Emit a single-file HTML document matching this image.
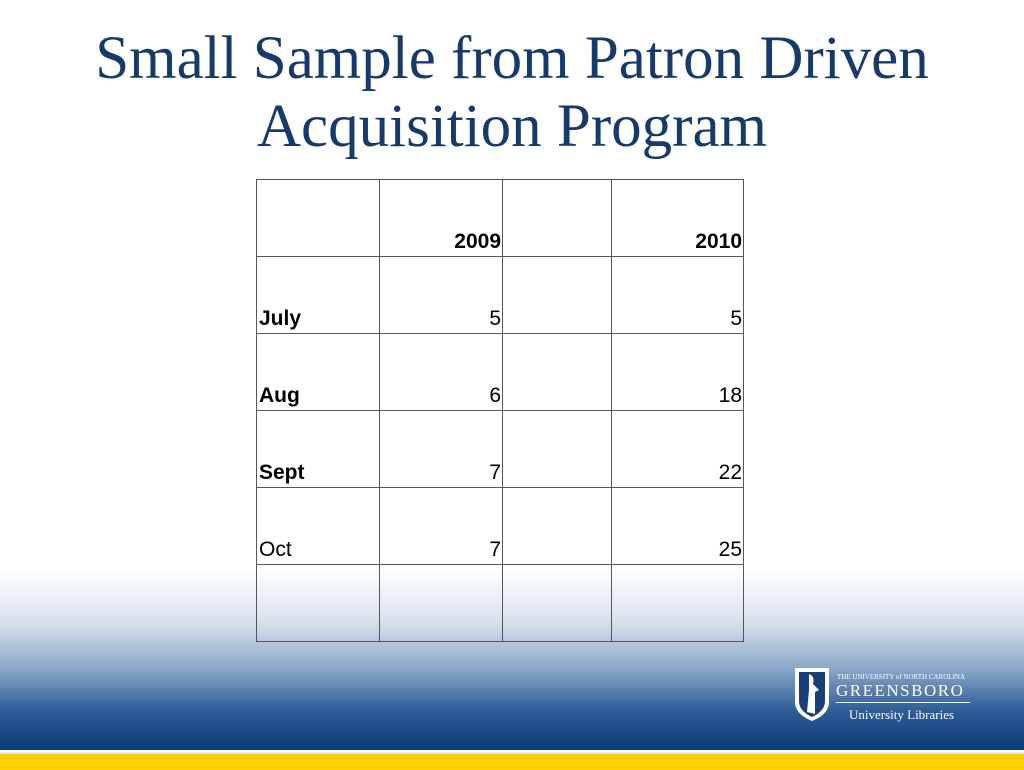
<!DOCTYPE html>
<html><head><meta charset="utf-8"><style>
body{margin:0;width:1024px;height:768px;overflow:hidden;position:relative;background:#fff;font-family:"Liberation Sans",sans-serif}
#bg{position:absolute;left:0;top:570px;width:1024px;height:180px;background:linear-gradient(#fff 0%,#d5dfeb 30%,#8aa6c8 55%,#2f5d97 78%,#0c3a78 100%)}
#yellow{position:absolute;left:0;top:752px;width:1024px;height:16px;background:#fdd000;border-top:2px solid #e8e8e0}
h1{position:absolute;left:0;top:25px;width:1024px;margin:0;text-align:center;font-family:"Liberation Serif",serif;font-weight:normal;font-size:61px;line-height:68px;color:#163a6c}
table{position:absolute;left:256px;top:179px;border-collapse:collapse}
td{border:1px solid #555;height:74px;vertical-align:bottom;font-family:"Liberation Sans",sans-serif;font-size:21px;padding:0 1px 2px 2px;text-align:right;color:#000}
td.l{text-align:left}
.b{font-weight:bold}
#logo{position:absolute;left:793px;top:666px;color:#fff;font-family:"Liberation Serif",serif}
</style></head><body>
<div id="bg"></div>
<div id="yellow"></div>
<h1>Small Sample from Patron Driven<br>Acquisition Program</h1>
<table>
<tr><td style="width:119px"></td><td style="width:119px" class="b">2009</td><td style="width:105px"></td><td style="width:128px" class="b">2010</td></tr>
<tr><td class="l b">July</td><td>5</td><td></td><td>5</td></tr>
<tr><td class="l b">Aug</td><td>6</td><td></td><td>18</td></tr>
<tr><td class="l b">Sept</td><td>7</td><td></td><td>22</td></tr>
<tr><td class="l">Oct</td><td>7</td><td></td><td>25</td></tr>
<tr><td></td><td></td><td></td><td></td></tr>
</table>
<div id="logo">
<svg width="38" height="56" style="position:absolute;left:0;top:0"><path d="M2 2 H36 V36 Q36 48 19 55 Q2 48 2 36 Z" fill="#fff"/><path d="M6 6 H32 V35 Q32 45 19 51 Q6 45 6 35 Z" fill="#1a3f78"/><path d="M16 8 Q22 10 20 18 L26 24 L22 26 L22 48 L14 46 L16 24 Z" fill="#fff"/></svg>
<div style="position:absolute;left:44px;top:7px;font-size:7px;white-space:nowrap">THE UNIVERSITY of NORTH CAROLINA</div>
<div style="position:absolute;left:43px;top:15px;font-size:17px;letter-spacing:1.5px;white-space:nowrap">GREENSBORO</div>
<div style="position:absolute;left:43px;top:36px;width:134px;height:1px;background:#fff"></div>
<div style="position:absolute;left:56px;top:41px;font-size:13px;white-space:nowrap">University Libraries</div>
</div>
</body></html>
